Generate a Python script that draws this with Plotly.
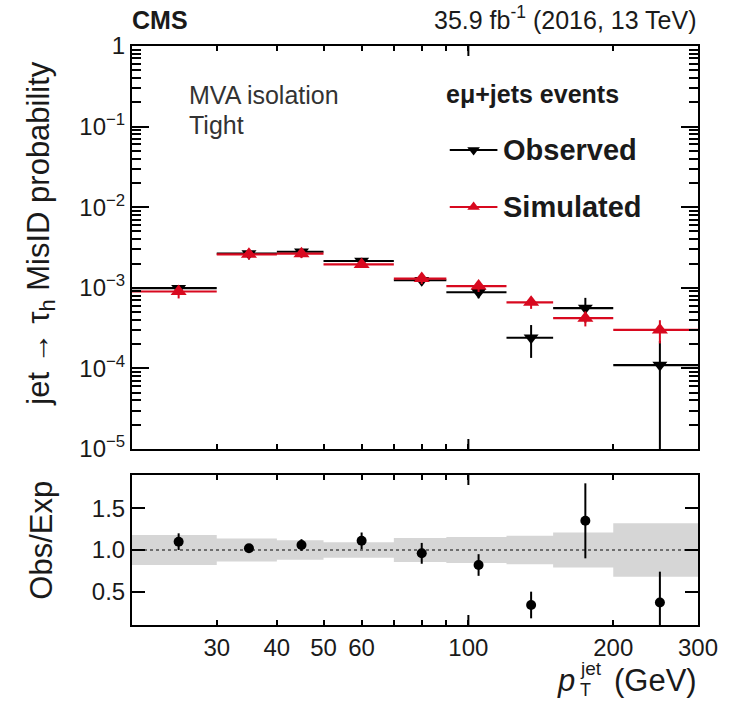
import math
import plotly.graph_objects as go

# ---------------- data ----------------
bin_edges = [20, 30, 40, 50, 70, 90, 120, 150, 200, 300]
bin_centers = [25, 35, 45, 60, 80, 105, 135, 175, 250]
observed = [9.9e-4, 2.66e-3, 2.80e-3, 2.15e-3, 1.24e-3, 8.8e-4, 2.4e-4, 5.6e-4, 1.1e-4]
observed_err = [9e-5, 1.3e-4, 1.9e-4, 2.0e-4, 1.6e-4, 1.4e-4, 1.05e-4, 1.9e-4, 1.1e-4]
simulated = [9.0e-4, 2.60e-3, 2.65e-3, 1.95e-3, 1.30e-3, 1.05e-3, 6.6e-4, 4.2e-4, 3.0e-4]
sim_rel_unc = [0.18, 0.137, 0.118, 0.094, 0.145, 0.155, 0.17, 0.21, 0.32]
ratio = [1.10, 1.02, 1.06, 1.11, 0.96, 0.82, 0.34, 1.35, 0.37]
ratio_err = [0.10, 0.05, 0.07, 0.10, 0.125, 0.13, 0.16, 0.45, 0.37]

x_tick_vals = [30, 40, 50, 60, 100, 200, 300]
x_tick_text = ["30", "40", "50", "60", "100", "200", "300"]
y_major_vals = [1, 1e-1, 1e-2, 1e-3, 1e-4, 1e-5]
y_major_text = ["1", "10<sup>−1</sup>", "10<sup>−2</sup>", "10<sup>−3</sup>", "10<sup>−4</sup>", "10<sup>−5</sup>"]
r_tick_vals = [0.5, 1.0, 1.5]
r_tick_text = ["0.5", "1.0", "1.5"]

# ---------------- layout geometry ----------------
W, H = 730, 701
L, R, T, B = 132, 28, 46, 76
MAIN_BOTTOM_PX, RATIO_TOP_PX = 449, 475
plot_h = H - T - B
main_dom = [(H - B - MAIN_BOTTOM_PX) / plot_h, 1.0]
ratio_dom = [0.0, (H - B - RATIO_TOP_PX) / plot_h]

FONT = "Liberation Sans"
RED = "#d8091f"
BLACK = "#000000"
TICK_SIZE = 24


def px(xp):
    return (xp - L) / (W - L - R)


def py(yp):
    return (H - B - yp) / plot_h


xlo = [c - e for c, e in zip(bin_centers, bin_edges[:-1])]
xhi = [e - c for c, e in zip(bin_centers, bin_edges[1:])]
sim_err = [s * u for s, u in zip(simulated, sim_rel_unc)]
obs_err_minus = [min(e, 0.999 * v) for e, v in zip(observed_err, observed)]

fig = go.Figure()

# main panel
fig.add_trace(go.Scatter(
    x=bin_centers, y=observed, mode="markers", xaxis="x", yaxis="y",
    marker=dict(symbol="triangle-down", size=13, color=BLACK),
    error_x=dict(type="data", array=xhi, arrayminus=xlo, symmetric=False,
                 color=BLACK, thickness=2.2, width=0),
    error_y=dict(type="data", array=observed_err, arrayminus=obs_err_minus,
                 symmetric=False, color=BLACK, thickness=2, width=0),
    showlegend=False, hoverinfo="skip"))
fig.add_trace(go.Scatter(
    x=bin_centers, y=simulated, mode="markers", xaxis="x", yaxis="y",
    marker=dict(symbol="triangle-up", size=14, color=RED),
    error_x=dict(type="data", array=xhi, arrayminus=xlo, symmetric=False,
                 color=RED, thickness=2.2, width=0),
    error_y=dict(type="data", array=sim_err, color=RED, thickness=2, width=0),
    showlegend=False, hoverinfo="skip"))

# ratio panel: uncertainty band
band_lo = [1 - u for u in sim_rel_unc] + [1 - sim_rel_unc[-1]]
band_hi = [1 + u for u in sim_rel_unc] + [1 + sim_rel_unc[-1]]
fig.add_trace(go.Scatter(x=bin_edges, y=band_lo, mode="lines", line=dict(width=0, shape="hv"),
                         xaxis="x2", yaxis="y2", showlegend=False, hoverinfo="skip"))
fig.add_trace(go.Scatter(x=bin_edges, y=band_hi, mode="lines", line=dict(width=0, shape="hv"),
                         fill="tonexty", fillcolor="rgb(214,214,214)",
                         xaxis="x2", yaxis="y2", showlegend=False, hoverinfo="skip"))
fig.add_trace(go.Scatter(x=[bin_edges[0], bin_edges[-1]], y=[1, 1], mode="lines",
                         line=dict(color="#6e6e6e", width=2, dash="dot"),
                         xaxis="x2", yaxis="y2", showlegend=False, hoverinfo="skip"))
fig.add_trace(go.Scatter(
    x=bin_centers, y=ratio, mode="markers", xaxis="x2", yaxis="y2",
    marker=dict(symbol="circle", size=10, color=BLACK),
    error_y=dict(type="data", array=ratio_err, color=BLACK, thickness=2, width=0),
    showlegend=False, hoverinfo="skip"))

# legend samples (overlay axes in main-panel fractions)
leg_x0, leg_x1 = (452 - L) / 570, (500 - L) / 570
leg_xm = (leg_x0 + leg_x1) / 2
for yy, col, sym in [((MAIN_BOTTOM_PX - 150) / 403, BLACK, "triangle-down"),
                     ((MAIN_BOTTOM_PX - 207) / 403, RED, "triangle-up")]:
    fig.add_trace(go.Scatter(x=[leg_x0, leg_x1], y=[yy, yy], mode="lines",
                             line=dict(color=col, width=2), xaxis="x3", yaxis="y3",
                             showlegend=False, hoverinfo="skip"))
    fig.add_trace(go.Scatter(x=[leg_xm], y=[yy], mode="markers",
                             marker=dict(symbol=sym, size=11, color=col), xaxis="x3", yaxis="y3",
                             showlegend=False, hoverinfo="skip"))

axis_common = dict(showline=True, linecolor=BLACK, linewidth=2, mirror="allticks",
                   ticks="inside", tickcolor=BLACK, tickwidth=2, showgrid=False, zeroline=False)
xr = [math.log10(bin_edges[0]), math.log10(bin_edges[-1])]

fig.update_layout(
    width=W, height=H, margin=dict(l=L, r=R, t=T, b=B),
    paper_bgcolor="white", plot_bgcolor="white",
    font=dict(family=FONT, color="#1a1a1a", size=TICK_SIZE),
    xaxis=dict(type="log", range=xr, domain=[0, 1], anchor="y", matches="x2",
               tickvals=x_tick_vals, ticktext=x_tick_text, showticklabels=False, ticklen=5,
               minor=dict(tickvals=[70, 80, 90], ticks="inside", ticklen=5, tickcolor=BLACK, tickwidth=2),
               **axis_common),
    yaxis=dict(type="log", range=[-5, 0], domain=main_dom, anchor="x",
               tickvals=y_major_vals, ticktext=y_major_text, ticklen=17,
               tickfont=dict(size=TICK_SIZE),
               minor=dict(tickvals=[k * 10 ** d for d in range(-5, 0) for k in range(2, 10)],
                          ticks="inside", ticklen=9, tickcolor=BLACK, tickwidth=2),
               **axis_common),
    xaxis2=dict(type="log", range=xr, domain=[0, 1], anchor="y2",
                tickvals=x_tick_vals, ticktext=x_tick_text, ticklen=5,
                tickfont=dict(size=TICK_SIZE),
                minor=dict(tickvals=[70, 80, 90], ticks="inside", ticklen=5, tickcolor=BLACK, tickwidth=2),
                **axis_common),
    yaxis2=dict(range=[0.1, 1.9], domain=ratio_dom, anchor="x2",
                tickvals=r_tick_vals, ticktext=r_tick_text, ticklen=13,
                tickfont=dict(size=TICK_SIZE),
                **axis_common),
    xaxis3=dict(overlaying="x", range=[0, 1], visible=False, anchor="y3"),
    yaxis3=dict(overlaying="y", range=[0, 1], visible=False, anchor="x3"),
)

# longer major tick at 100 GeV
for yref, length in [("y domain", 10 / 403), ("y2 domain", 10 / 150)]:
    fig.add_shape(type="line", xref="x", yref=yref, x0=100, x1=100, y0=0, y1=length,
                  line=dict(color=BLACK, width=2))
    fig.add_shape(type="line", xref="x", yref=yref, x0=100, x1=100, y0=1 - length, y1=1,
                  line=dict(color=BLACK, width=2))


def ann(text, x, y, xanchor="left", yanchor="middle", size=21, color="#1a1a1a", angle=0):
    fig.add_annotation(text=text, x=px(x), y=py(y), xref="paper", yref="paper",
                       xanchor=xanchor, yanchor=yanchor, showarrow=False, textangle=angle,
                       font=dict(family=FONT, size=size, color=color))


ann("<b>CMS</b>", 130, 36, yanchor="bottom", size=25)
ann("35.9 fb<sup>-1</sup> (2016, 13 TeV)", 703, 36, xanchor="right", yanchor="bottom", size=25)
ann("MVA isolation", 187, 95, size=25, color="#333333")
ann("Tight", 187, 125, size=25, color="#333333")
ann("<b>eμ+jets events</b>", 446, 94, size=25)
ann("<b>Observed</b>", 504, 150, size=29)
ann("<b>Simulated</b>", 504, 207, size=29)
ann("jet → τ<sub>h</sub> MisID probability", 40, 233, xanchor="center", size=31, angle=-90)
ann("Obs/Exp", 40, 540, xanchor="center", size=31, angle=-90)
# x-axis title p_T^jet (GeV), built from pieces so sub- and superscript stack
ann("<i>p</i>", 580, 680, xanchor="right", size=31)
ann("jet", 581, 668, xanchor="left", size=19)
ann("T", 581, 690, xanchor="left", size=18)
ann("(GeV)", 703, 680, xanchor="right", size=31)

fig.write_html("out.html", post_script="document.body.style.margin='0';",
               config={"displayModeBar": False})
